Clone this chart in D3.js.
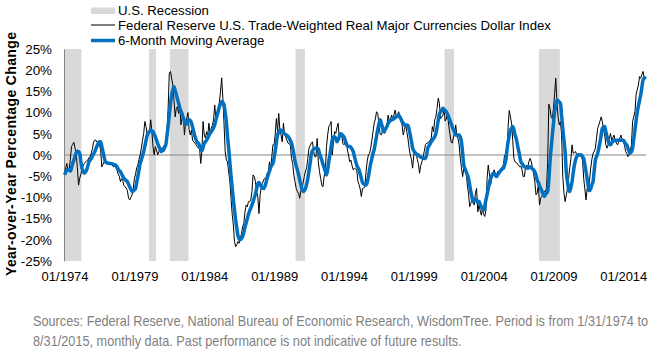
<!DOCTYPE html>
<html>
<head>
<meta charset="utf-8">
<script src="https://cdn.jsdelivr.net/npm/d3@7"></script>
<style>
  body { margin: 0; background: #fff; }
  svg { display: block; font-family: Arial, "Liberation Sans", sans-serif; }
</style>
</head>
<body>
<svg id="chart" width="659" height="357"></svg>
<script>
const WIDTH = 659;
const HEIGHT = 357;
const LEFT = 64, RIGHT = 646, TOP = 49, BOTTOM = 261;

// monthly data, first value is Jan 1974, last is Aug 2015
const firstMonth = "1974-01";

// YoY % change of the real major currencies dollar index
const tradeWeighted = [
  -4.3, -3.0, -2.0, -3.8, -3.5, -1.0, 2.0, 2.5, 3.0, 1.6, 0.5, -3.0,
  -7.1, -5.5, -4.7, -3.1, -2.6, -2.0, -1.6, -1.4, -1.2, -0.6, -0.4, 0.5,
  1.6, 3.1, 3.5, 3.5, 3.0, 3.1, 2.5, 1.0, -2.8, -2.2, -1.6, -1.8,
  -1.8, -2.0, -2.0, -2.2, -2.0, -2.4, -2.8, -2.6, -3.0, -3.5, -4.5, -5.0,
  -6.3, -5.6, -6.0, -7.2, -7.5, -7.8, -8.4, -10.2, -10.6, -10.0, -9.4, -7.9,
  -5.5, -4.5, -3.0, -2.4, -1.0, 0.0, 1.6, 3.5, 5.1, 7.9, 6.7, 4.7,
  4.5, 5.5, 8.3, 5.5, 2.0, 0.0, 2.0, 1.2, 0.0, 0.8, 1.6, 1.6,
  1.6, 2.0, 2.4, 2.8, 5.5, 11.0, 19.3, 19.7, 18.0, 16.5, 13.0, 9.0,
  11.0, 11.4, 9.8, 11.8, 7.1, 8.6, 9.8, 4.7, 7.9, 8.6, 10.0, 6.0,
  4.7, 5.9, 3.5, 3.1, 2.8, 2.4, 2.0, 1.6, 1.6, -2.0, 1.2, 7.9,
  4.7, 4.0, 5.5, 4.5, 7.5, 5.1, 6.3, 7.0, 8.3, 11.8, 8.3, 10.0,
  11.0, 12.5, 15.0, 18.2, 13.4, 7.5, 0.8, -1.2, -1.6, -4.0, -6.3, -10.2,
  -14.0, -16.5, -20.4, -21.6, -21.2, -20.4, -20.8, -19.7, -18.5, -16.9, -16.1, -13.4,
  -11.8, -12.2, -11.0, -11.0, -10.6, -8.6, -4.7, -5.1, -6.3, -8.6, -9.8, -13.8,
  -9.4, -7.5, -6.7, -5.9, -5.5, -5.5, -4.3, -4.3, -1.6, -3.5, -0.5, 2.4,
  2.4, 5.0, 8.6, 5.5, 9.8, 6.0, 4.7, 3.1, 7.5, 5.0, 4.3, 3.5,
  2.8, 2.6, 2.4, -0.8, -2.0, -4.7, -6.3, -7.9, -8.6, -9.0, -10.2, -8.5,
  -7.9, -6.5, -5.1, -3.8, -3.1, -0.8, 1.6, 2.2, 2.8, 3.1, 0.8, -0.4,
  -0.4, 3.9, -1.6, -3.9, -5.5, -7.1, -7.5, -5.0, -3.9, 2.0, 4.7, 6.7,
  7.2, 7.9, 0.0, 3.0, 5.5, 5.1, 6.5, 7.5, 3.9, 4.5, 5.1, 2.8,
  2.4, 3.0, 3.5, 1.2, 0.0, -1.6, -1.2, -2.5, -3.5, -3.1, -3.3, -3.5,
  -6.3, -7.0, -8.0, -9.8, -7.9, -7.8, -7.5, -3.9, -1.5, 0.0, 0.4, 1.6,
  3.5, 5.5, 7.5, 8.5, 10.2, 9.8, 7.5, 5.1, 4.7, 5.5, 6.7, 5.1,
  6.0, 7.0, 9.4, 7.9, 8.5, 9.4, 8.3, 9.5, 10.6, 9.0, 9.5, 10.2,
  9.0, 8.0, 7.1, 4.7, 6.0, 7.1, 5.5, 3.9, 1.6, 0.0, -1.0, -3.1,
  0.0, 0.8, 0.8, -1.0, -2.0, -4.3, -2.5, -1.6, -0.5, 0.8, 2.4, 2.8,
  2.8, 3.1, 3.5, 3.9, 6.7, 5.5, 8.3, 9.0, 11.0, 13.4, 12.2, 8.6,
  9.0, 9.4, 10.6, 8.0, 8.5, 10.2, 7.0, 5.1, 3.1, 2.8, 4.0, 5.1,
  7.1, 4.5, 3.9, 2.4, -0.8, -3.0, -5.1, -3.1, -3.5, -3.9, -7.1, -9.0,
  -12.2, -11.4, -10.6, -11.0, -11.8, -9.0, -7.9, -13.4, -11.8, -13.0, -14.2, -12.6,
  -14.0, -14.5, -13.0, -5.5, -2.4, -4.5, -7.1, -5.5, -4.3, -3.5, -4.5, -5.1,
  -3.9, -4.1, -4.3, -3.1, -2.8, -2.4, 0.0, -1.2, -1.2, 6.5, 10.5, 9.0,
  7.5, 3.5, -0.8, -1.6, -1.8, -2.0, -2.4, -2.8, -2.6, -3.5, -5.1, -5.1,
  -3.0, -2.4, -2.8, -1.5, -0.8, -1.6, -3.0, -4.5, -6.3, -9.4, -9.0, -7.1,
  -11.8, -10.2, -9.8, -9.0, -8.6, -8.6, -7.9, -2.0, 12.0, 11.0, 9.0, 8.6,
  11.0, 14.5, 18.1, 12.6, 9.0, 7.1, 7.9, 4.7, -5.0, -9.0, -11.0, -9.5,
  -7.9, -5.5, -3.0, -1.0, 2.4, 0.4, 0.6, 0.8, 0.0, 0.2, 0.4, 0.0,
  -0.5, -1.2, -5.5, -8.0, -10.6, -7.9, -8.6, -6.0, -3.1, -1.0, 0.4, 0.8,
  1.6, 4.0, 6.3, 7.1, 8.0, 9.0, 7.9, 6.0, 4.7, 2.4, 1.6, 2.4,
  3.9, 5.1, 3.5, 4.0, 4.7, 3.5, 2.8, 2.4, 3.1, 4.0, 4.7, 3.5,
  3.0, 2.4, 0.8, 0.4, -0.4, 0.0, 1.0, 2.4, 7.9, 9.0, 10.2, 14.2,
  15.5, 16.5, 18.5, 18.1, 19.0, 19.7, 18.1, 18.5
];

// 6-month moving average as drawn in the chart
const movingAverage = [
  -4.7, -4.0, -3.5, -3.4, -3.6, -3.8, -3.0, -2.0, -1.2, -0.3, 0.5, 0.9,
  0.8, 0.4, -1.5, -3.1, -3.9, -4.3, -4.0, -3.5, -2.6, -1.6, -1.2, -0.8,
  -0.2, 0.3, 0.8, 1.5, 2.2, 2.8, 3.1, 3.1, 2.0, 0.8, -0.5, -1.6,
  -1.8, -1.9, -2.0, -2.0, -2.0, -2.1, -2.2, -2.3, -2.4, -2.8, -3.3, -3.7,
  -3.9, -4.5, -5.0, -5.5, -5.8, -6.0, -6.3, -6.9, -7.5, -8.1, -8.6, -8.5,
  -8.2, -7.9, -6.5, -5.1, -3.5, -2.0, -1.1, -0.2, 0.8, 2.1, 3.4, 4.7,
  5.2, 5.6, 5.9, 5.7, 5.5, 4.9, 4.3, 3.5, 2.7, 2.0, 1.4, 0.8,
  1.0, 1.2, 1.8, 2.4, 4.5, 6.8, 9.5, 12.0, 14.2, 15.3, 16.1, 15.2,
  14.2, 13.2, 12.2, 11.2, 10.4, 9.6, 8.8, 8.0, 7.3, 7.3, 7.9, 8.3,
  8.1, 7.6, 6.6, 5.5, 4.4, 3.6, 3.0, 2.8, 2.2, 1.4, 1.0, 1.8,
  2.8, 3.1, 3.5, 4.0, 4.6, 5.1, 5.5, 5.9, 6.4, 7.2, 8.3, 9.3,
  10.4, 11.4, 12.0, 12.6, 12.4, 11.8, 10.0, 7.8, 4.3, 1.5, -1.8, -5.0,
  -7.8, -10.5, -13.0, -15.3, -17.3, -19.0, -19.8, -20.0, -19.7, -19.2, -18.3, -17.0,
  -16.0, -15.0, -14.0, -13.2, -12.5, -11.8, -11.0, -10.1, -9.1, -8.0, -6.8, -6.5,
  -7.0, -7.4, -7.8, -7.9, -7.5, -6.6, -5.5, -4.6, -3.8, -3.0, -2.4, -2.0,
  -0.6, 1.0, 3.0, 4.6, 5.5, 5.8, 5.9, 5.6, 5.3, 5.0, 4.8, 4.6,
  4.4, 4.0, 3.4, 2.8, 1.7, 0.2, -1.4, -2.6, -3.5, -4.6, -5.8, -7.0,
  -8.2, -8.6, -8.4, -7.9, -6.9, -5.6, -3.8, -1.9, 0.2, 1.0, 1.4, 1.6,
  1.6, 1.6, 1.4, 0.4, -0.4, -1.2, -2.2, -3.0, -3.9, -4.7, -3.5, -1.5,
  0.2, 2.0, 3.6, 4.2, 4.3, 3.9, 3.1, 3.6, 4.3, 5.0, 4.9, 4.6,
  4.3, 3.5, 2.8, 2.0, 2.0, 2.0, 1.8, 1.4, 0.8, -0.3, -1.4, -2.4,
  -3.0, -3.5, -4.5, -5.5, -6.5, -6.8, -7.0, -7.1, -6.5, -5.2, -3.5, -2.0,
  -0.8, 0.4, 1.3, 2.8, 4.4, 6.0, 7.2, 8.3, 7.6, 6.5, 5.5, 5.8,
  6.3, 6.8, 7.4, 7.9, 8.1, 8.3, 8.4, 8.6, 8.8, 9.0, 9.2, 9.4,
  9.0, 8.5, 7.9, 7.5, 7.1, 7.1, 7.1, 7.0, 6.0, 4.7, 3.2, 1.6,
  1.0, 0.5, 0.3, 0.1, 0.0, -0.3, -0.5, -0.6, -0.7, -0.8, -0.8, 0.0,
  1.6, 2.1, 2.6, 3.1, 3.5, 3.9, 4.3, 5.1, 6.5, 8.2, 9.6, 10.2,
  10.5, 11.0, 10.8, 10.5, 10.2, 9.6, 9.0, 8.2, 7.5, 6.7, 6.0, 5.4,
  4.7, 4.7, 4.7, 4.7, 4.2, 3.1, 0.4, -2.4, -3.2, -3.9, -4.7, -5.5,
  -7.0, -8.6, -9.8, -11.0, -10.6, -10.4, -10.8, -11.2, -10.9, -11.6, -12.2, -12.6,
  -13.0, -12.0, -10.6, -9.3, -7.9, -6.6, -5.5, -4.9, -4.4, -4.3, -4.7, -5.1,
  -4.7, -4.3, -3.9, -3.6, -3.3, -3.1, -2.3, -1.2, 1.0, 3.1, 4.5, 5.9,
  6.3, 6.7, 6.0, 4.8, 3.9, 2.5, 1.2, -0.2, -1.6, -2.0, -2.4, -2.8,
  -2.9, -3.0, -3.1, -3.0, -2.8, -3.0, -3.3, -3.5, -4.0, -4.7, -5.9, -6.5,
  -7.2, -7.9, -8.5, -9.1, -9.8, -9.4, -9.0, -8.6, -6.0, -1.6, 1.6, 4.7,
  7.5, 10.2, 11.6, 13.0, 12.8, 12.5, 12.2, 9.3, 6.3, 3.5, 0.8, -4.0,
  -6.3, -8.0, -8.6, -7.6, -6.3, -4.2, -2.4, -1.2, -0.4, 0.0, 0.0, 0.0,
  0.0, -0.4, -0.8, -2.3, -3.9, -5.7, -7.5, -8.4, -8.0, -7.0, -6.3, -3.7,
  -1.2, -0.4, 0.4, 1.6, 3.1, 4.7, 6.3, 6.5, 6.7, 5.5, 4.3, 3.4,
  2.6, 2.4, 2.8, 3.2, 3.5, 3.5, 3.5, 3.5, 3.5, 3.5, 3.5, 3.5,
  3.5, 3.1, 2.6, 2.4, 1.6, 0.8, 0.5, 0.8, 1.6, 3.8, 5.9, 8.1,
  10.2, 11.6, 12.9, 14.2, 16.0, 17.7, 18.1, 18.5
];

// NBER recession months shown as grey bands (first and last month)
const recessionStarts = ["1974-01", "1980-02", "1981-08", "1990-08", "2001-04", "2008-01"];
const recessionEnds   = ["1975-03", "1980-07", "1982-11", "1991-03", "2001-11", "2009-06"];

const yTicks = [25, 20, 15, 10, 5, 0, -5, -10, -15, -20, -25];
const xTickLabels = ["01/1974", "01/1979", "01/1984", "01/1989", "01/1994",
                     "01/1999", "01/2004", "01/2009", "01/2014"];

const legendLabels = [
  "U.S. Recession",
  "Federal Reserve U.S. Trade-Weighted Real Major Currencies Dollar Index",
  "6-Month Moving Average"
];
const footerLines = [
  "Sources: Federal Reserve, National Bureau of Economic Research, WisdomTree. Period is from 1/31/1974 to",
  "8/31/2015, monthly data. Past performance is not indicative of future results."
];

const BLUE = "#0070c0";
const GREY_BAND = "#d9d9d9";
const AXIS_GREY = "#868686";
const FONT = "Arial, 'Liberation Sans', sans-serif";

var parseMonth = d3.timeParse("%Y-%m");
var parseTick = d3.timeParse("%m/%Y");
var start = parseMonth(firstMonth);
var end = d3.timeMonth.offset(start, tradeWeighted.length);

var midMonth = function (d) {
  return new Date((+d + +d3.timeMonth.offset(d, 1)) / 2);
};

var months = tradeWeighted.map(function (d, i) { return d3.timeMonth.offset(start, i); });

var x = d3.scaleTime().domain([start, end]).range([LEFT, RIGHT]);
var y = d3.scaleLinear().domain([-25, 25]).range([BOTTOM, TOP]);

var svg = d3.select("#chart");

// recession bands
svg.append("g").selectAll("rect")
  .data(recessionStarts)
  .enter()
  .append("rect")
  .attr("x", function (d) { return x(d3.max([parseMonth(d), start])); })
  .attr("y", TOP)
  .attr("width", function (d, i) {
    var s = d3.max([parseMonth(d), start]);
    var e = d3.timeMonth.offset(parseMonth(recessionEnds[i]), 1);
    return x(e) - x(s);
  })
  .attr("height", BOTTOM - TOP)
  .attr("fill", GREY_BAND);

// y axis
var yAxis = d3.axisLeft(y)
  .tickValues(yTicks)
  .tickSize(0)
  .tickSizeOuter(0)
  .tickPadding(12)
  .tickFormat(function (d) { return d + "%"; });

var gy = svg.append("g")
  .attr("transform", "translate(" + LEFT + ",0)")
  .call(yAxis);
gy.select(".domain").attr("stroke", AXIS_GREY);
gy.selectAll("text").attr("font-size", 13.4).attr("font-family", FONT).attr("fill", "#000");

// x axis, labels only
var xAxis = d3.axisBottom(x)
  .tickValues(xTickLabels.map(function (t) { return midMonth(parseTick(t)); }))
  .tickSize(0)
  .tickPadding(11)
  .tickFormat(d3.timeFormat("%m/%Y"));

var gx = svg.append("g")
  .attr("transform", "translate(0," + BOTTOM + ")")
  .call(xAxis);
gx.select(".domain").remove();
gx.selectAll("text").attr("font-size", 13).attr("font-family", FONT).attr("fill", "#000");

// zero line
svg.append("line")
  .attr("x1", LEFT).attr("x2", RIGHT)
  .attr("y1", y(0)).attr("y2", y(0))
  .attr("stroke", AXIS_GREY)
  .attr("stroke-width", 1);

var lineGen = d3.line()
  .x(function (d, i) { return x(midMonth(months[i])); })
  .y(function (d) { return y(d); });

svg.append("path")
  .attr("d", lineGen(tradeWeighted))
  .attr("fill", "none")
  .attr("stroke", "#000")
  .attr("stroke-width", 1);

svg.append("path")
  .attr("d", lineGen.curve(d3.curveMonotoneX)(movingAverage))
  .attr("fill", "none")
  .attr("stroke", BLUE)
  .attr("stroke-width", 3.5)
  .attr("stroke-linejoin", "round");

// y axis title
svg.append("text")
  .attr("transform", "rotate(-90)")
  .attr("x", -154)
  .attr("y", 16)
  .attr("text-anchor", "middle")
  .attr("font-size", 14)
  .attr("font-weight", "bold")
  .attr("textLength", 244)
  .attr("lengthAdjust", "spacing")
  .text("Year-over-Year Percentage Change");

// legend
var legend = svg.append("g");
legend.append("rect")
  .attr("x", 91).attr("y", 7.5).attr("width", 24).attr("height", 6.5)
  .attr("fill", GREY_BAND);
legend.append("line")
  .attr("x1", 91).attr("x2", 115).attr("y1", 25).attr("y2", 25)
  .attr("stroke", "#000").attr("stroke-width", 1);
legend.append("line")
  .attr("x1", 91).attr("x2", 115).attr("y1", 40.5).attr("y2", 40.5)
  .attr("stroke", BLUE).attr("stroke-width", 3.5);
legend.selectAll("text.lg")
  .data(legendLabels)
  .enter()
  .append("text")
  .attr("class", "lg")
  .attr("x", 118)
  .attr("y", function (d, i) { return [15, 30, 45][i]; })
  .attr("font-size", 13.2)
  .attr("fill", "#000")
  .text(function (d) { return d; });

// footer: narrow look by squeezing a regular face, first line justified
var footer = svg.append("g")
  .attr("font-family", FONT)
  .attr("font-size", 14)
  .attr("fill", "#7f7f7f");

var f2 = footer.append("text").attr("x", 0).attr("y", 346.5).text(footerLines[1]);
var squeeze = 429 / f2.node().getComputedTextLength();
footer.attr("transform", "translate(33,0) scale(" + squeeze + ",1)");

var f1 = footer.append("text").attr("x", 0).attr("y", 326).text(footerLines[0]);
var natural = f1.node().getComputedTextLength();
var gaps = footerLines[0].split(" ").length - 1;
f1.attr("word-spacing", (615 / squeeze - natural) / gaps);
</script>
</body>
</html>
